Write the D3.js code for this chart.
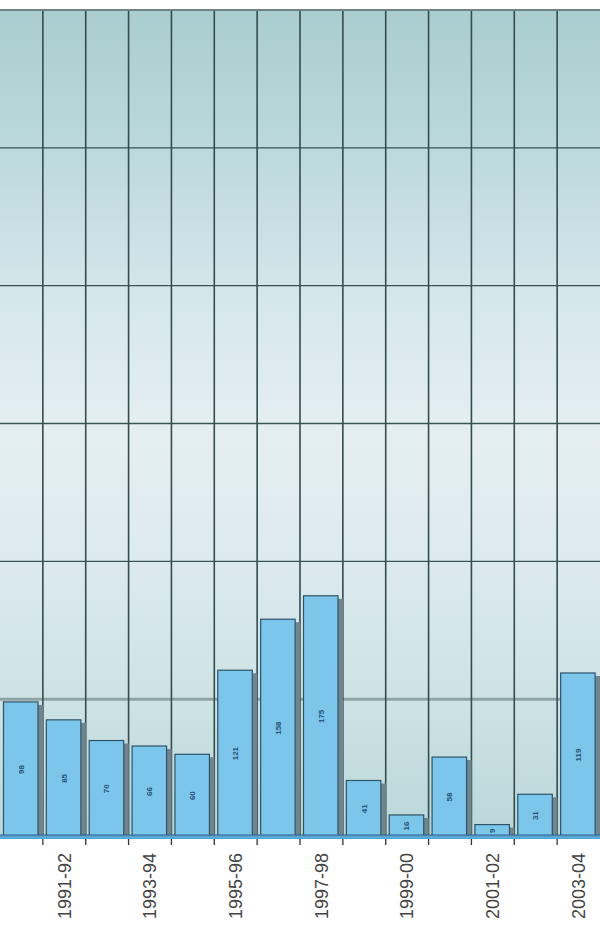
<!DOCTYPE html>
<html>
<head>
<meta charset="utf-8">
<script src="https://cdn.jsdelivr.net/npm/d3@7"></script>
<style>
html,body{margin:0;padding:0;background:#fff;}
svg{display:block;}
</style>
</head>
<body>
<svg id="chart" width="600" height="925"></svg>
<script>
const categories = ["1990-91","1991-92","1992-93","1993-94","1994-95","1995-96","1996-97","1997-98","1998-99","1999-00","2000-01","2001-02","2002-03","2003-04"];
const values = [98,85,70,66,60,121,158,175,41,16,58,9,31,119];
const tickLabels = ["1991-92","1993-94","1995-96","1997-98","1999-00","2001-02","2003-04"];
const yTicks = [0,100,200,300,400,500,600];

(function(){
const svg = d3.select("#chart");
const pL = 0, pR = 600, pT = 10, pB = 837;

const x = d3.scaleBand().domain(categories).range([pL, pR]).padding(0);
const y = d3.scaleLinear().domain([0, 600]).range([pB, pT]);

// background gradient
const defs = svg.append("defs");
const g = defs.append("linearGradient").attr("id","bg").attr("x1",0).attr("y1",0).attr("x2",0).attr("y2",1);
[[0,"#a9cdd0"],[0.18,"#bddadd"],[0.35,"#d6e7eb"],[0.52,"#e5eff2"],[0.68,"#dbe9ed"],[0.84,"#cde2e4"],[1,"#bad7d9"]]
  .forEach(([o,c]) => g.append("stop").attr("offset",o).attr("stop-color",c));

svg.append("rect").attr("x",pL).attr("y",pT).attr("width",pR-pL).attr("height",pB-pT).attr("fill","url(#bg)");

// horizontal gridlines
svg.append("g").selectAll("line").data(yTicks.filter(t => t > 0)).join("line")
  .attr("x1", pL).attr("x2", pR)
  .attr("y1", d => y(d)).attr("y2", d => y(d))
  .attr("stroke", d => d === 100 ? "#8ea4a6" : "#3a5353")
  .attr("stroke-width", d => d === 100 ? 3 : 1.3);

// vertical gridlines at band boundaries
svg.append("g").selectAll("line").data(categories.slice(1)).join("line")
  .attr("x1", d => x(d)).attr("x2", d => x(d))
  .attr("y1", pT).attr("y2", pB)
  .attr("stroke", "#344c4c").attr("stroke-width", 1.6);

// bars
const barOff = 3.5, barW = 34.5;
const bars = svg.append("g");
bars.selectAll("rect.shadow").data(values).join("rect").attr("class","shadow")
  .attr("x", (d,i) => x(categories[i]) + barOff + barW)
  .attr("y", d => y(d) + 3)
  .attr("width", 5)
  .attr("height", d => pB - y(d) - 3)
  .attr("fill", "#6f8590");
bars.selectAll("rect.bar").data(values).join("rect").attr("class","bar")
  .attr("x", (d,i) => x(categories[i]) + barOff)
  .attr("y", d => y(d))
  .attr("width", barW)
  .attr("height", d => pB - y(d))
  .attr("fill", "#7cc6ec")
  .attr("stroke", "#2f5366").attr("stroke-width", 1.2);

// value labels inside bars
bars.selectAll("text").data(values).join("text")
  .attr("transform", (d,i) => `translate(${x(categories[i]) + barOff + barW/2 + 3},${(y(d)+pB)/2}) rotate(-90)`)
  .attr("text-anchor","middle")
  .attr("font-family","Liberation Sans, Arial, sans-serif")
  .attr("font-size", 8)
  .attr("font-weight","bold")
  .attr("fill","#2a5577")
  .text(d => d);

// top border
svg.append("line").attr("x1",pL).attr("x2",pR).attr("y1",pT).attr("y2",pT)
  .attr("stroke","#6d8484").attr("stroke-width",2);

// baseline (blue floor)
svg.append("rect").attr("x",pL).attr("y",pB-2).attr("width",pR-pL).attr("height",4).attr("fill","#5aa6d6");
svg.append("line").attr("x1",pL).attr("x2",pR).attr("y1",pB-2).attr("y2",pB-2)
  .attr("stroke","#2d5f80").attr("stroke-width",1);

// tick marks at band boundaries
svg.append("g").selectAll("line").data(categories.slice(1)).join("line")
  .attr("x1", d => x(d)).attr("x2", d => x(d))
  .attr("y1", pB+2).attr("y2", pB+8)
  .attr("stroke","#333").attr("stroke-width",1.3);

// category labels
const axis = d3.axisBottom(x).tickValues(tickLabels).tickSize(0).tickPadding(0);
const ag = svg.append("g").attr("transform",`translate(0,${pB})`).call(axis);
ag.select(".domain").remove();
ag.selectAll("text")
  .attr("font-family","Liberation Sans, Arial, sans-serif")
  .attr("font-size",18)
  .attr("fill","#444")
  .attr("text-anchor","end")
  .attr("dy","0.35em")
  .attr("y",0)
  .attr("transform","translate(0,16) rotate(-90)");
})();
</script>
</body>
</html>
